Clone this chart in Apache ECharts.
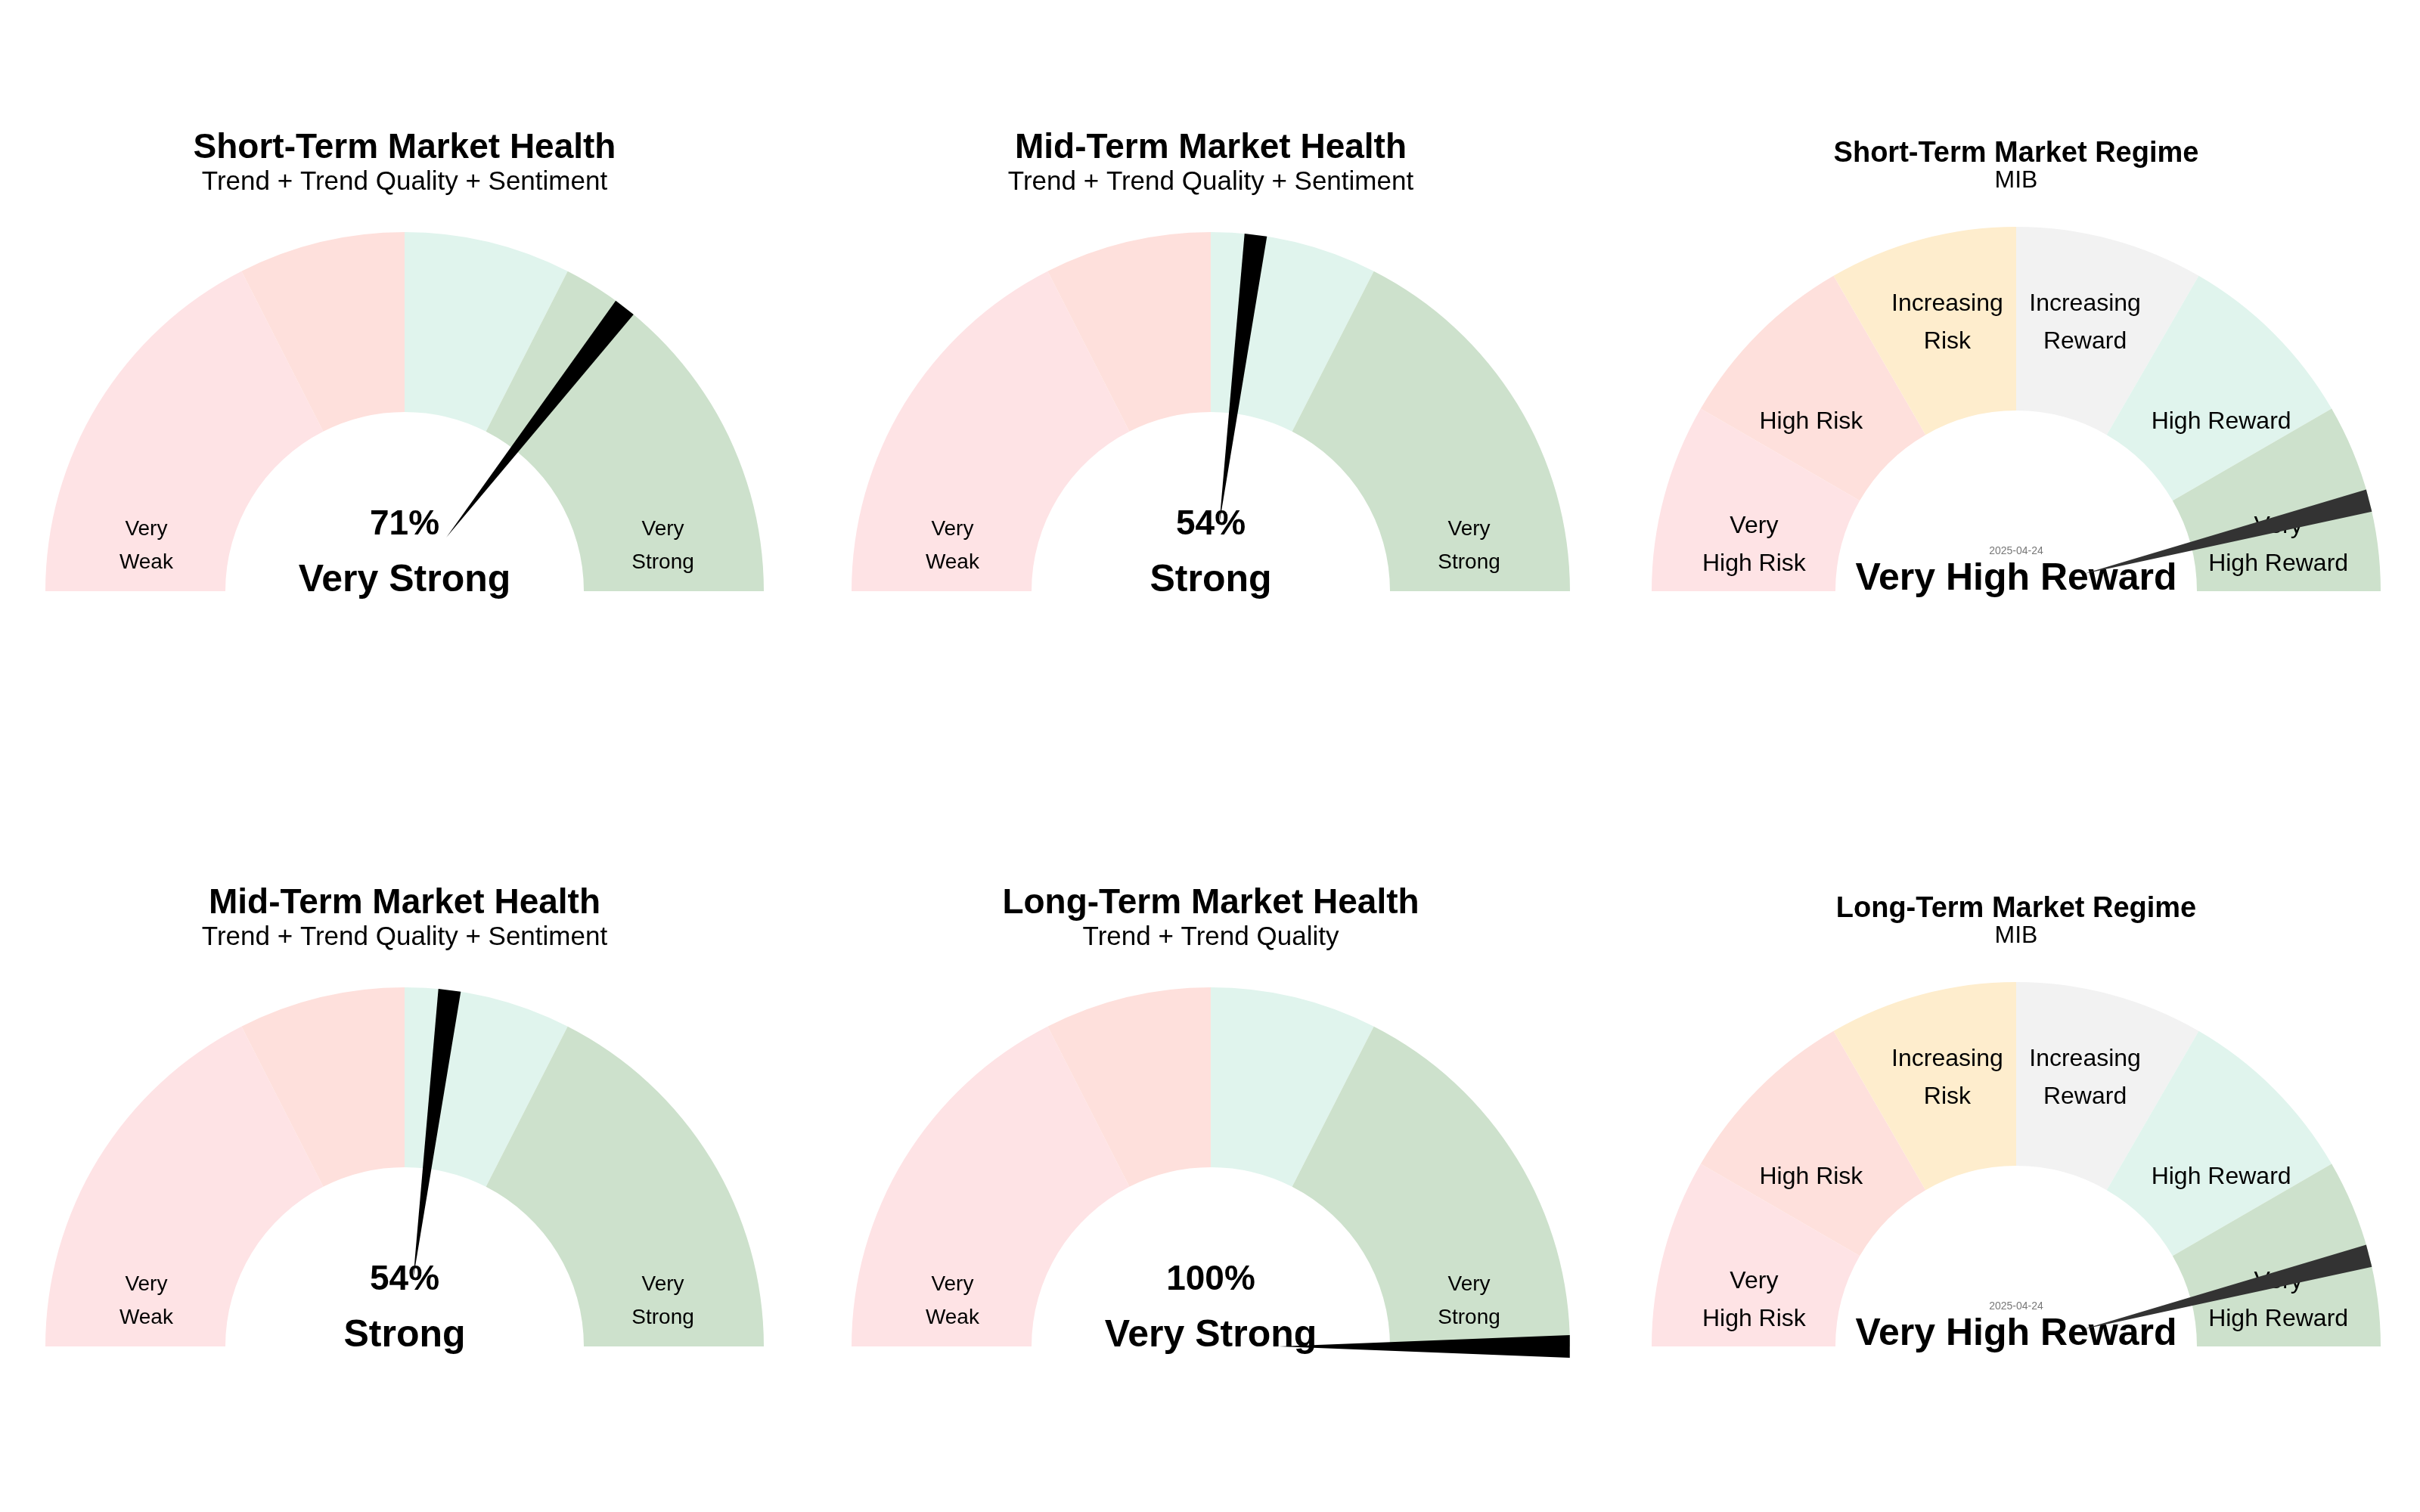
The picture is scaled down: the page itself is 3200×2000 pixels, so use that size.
<!DOCTYPE html>
<html lang="en">
<head>
    <meta charset="UTF-8">
    <title>Market Health Gauges</title>
    <style>
        html, body { margin: 0; padding: 0; background: #fff; }
        #main { width: 3200px; height: 2000px; }
    </style>
    <script src="https://cdn.jsdelivr.net/npm/echarts@6/dist/echarts.min.js"></script>
</head>
<body>
<div id="main"></div>
<script>
    // health gauges: 4 bands on a 0..100 scale
    var healthBands = [0, 35, 50, 65, 100];
    var healthColors = ['#fee3e5', '#fee0dc', '#e0f4ed', '#cde1cc'];
    var healthLabels = ['Very\nWeak', 'Very\nStrong'];
    var healthLabelAt = [5.5, 94.5];

    // regime gauges: 6 bands
    var regimeBands = [0, 16.7, 33.3, 50, 66.7, 83.3, 100];
    var regimeColors = ['#fee3e5', '#fee0dc', '#feedcd', '#f2f2f2', '#e0f4ed', '#cde1cc'];
    var regimeLabels = ['Very\nHigh Risk', 'High Risk', 'Increasing\nRisk', 'Increasing\nReward', 'High Reward', 'Very\nHigh Reward'];
    var regimeLabelAt = [5.5, 22, 42, 58, 78, 94.5];

    var titles = ['Short-Term Market Health', 'Mid-Term Market Health', 'Short-Term Market Regime',
                  'Mid-Term Market Health', 'Long-Term Market Health', 'Long-Term Market Regime'];
    var subtitles = ['Trend + Trend Quality + Sentiment', 'Trend + Trend Quality + Sentiment', 'MIB',
                     'Trend + Trend Quality + Sentiment', 'Trend + Trend Quality', 'MIB'];
    var kinds = ['health', 'health', 'regime', 'health', 'health', 'regime'];
    var values = [71, 54, 92, 54, 100, 92];
    var statusText = ['Very Strong', 'Strong', 'Very High Reward', 'Strong', 'Very Strong', 'Very High Reward'];
    var dateText = '2025-04-24';

    var centersX = [535, 1601, 2666];
    var baseY = [782, 1781];

    var chart = echarts.init(document.getElementById('main'));
    var polar = [], angleAxis = [], radiusAxis = [], series = [], graphic = [];
    var FONT = '"Liberation Sans", Arial, sans-serif';

    function ang(v) { return Math.PI + v / 100 * Math.PI; }

    titles.forEach(function (t, i) {
        var cx = centersX[i % 3], cy = baseY[Math.floor(i / 3)];
        var isReg = kinds[i] === 'regime';
        var R = isReg ? 482 : 475;
        var inner = isReg ? 239 / 482 : 237 / 475;
        var bands = isReg ? regimeBands : healthBands;
        var colors = isReg ? regimeColors : healthColors;
        var labels = isReg ? regimeLabels : healthLabels;
        var labelAt = isReg ? regimeLabelAt : healthLabelAt;

        polar.push({ center: [cx, cy], radius: [0, R] });
        angleAxis.push({ polarIndex: i, type: 'value', min: 0, max: 200, startAngle: 180, clockwise: true, show: false });
        radiusAxis.push({ polarIndex: i, type: 'value', min: 0, max: 1, show: false });

        var bandData = [];
        for (var b = 0; b < colors.length; b++) bandData.push([1, bands[b], bands[b + 1]]);

        series.push({
            type: 'custom', coordinateSystem: 'polar', polarIndex: i, silent: true,
            data: bandData,
            renderItem: function (params, api) {
                var c = api.coord([0, 0]);
                var o = api.coord([1, 0]);
                var r = Math.hypot(o[0] - c[0], o[1] - c[1]);
                return {
                    type: 'sector',
                    shape: { cx: c[0], cy: c[1], r0: r * inner, r: r,
                             startAngle: ang(api.value(1)), endAngle: ang(api.value(2)), clockwise: true },
                    style: { fill: colors[params.dataIndex] }
                };
            }
        });

        series.push({
            type: 'custom', coordinateSystem: 'polar', polarIndex: i, silent: true,
            data: labelAt.map(function (a, k) { return [isReg && (k === 2 || k === 3) ? 0.76 : 0.73, a]; }),
            renderItem: function (params, api) {
                var p = api.coord([api.value(0), api.value(1)]);
                return {
                    type: 'text', x: p[0], y: p[1],
                    style: { text: labels[params.dataIndex], textAlign: 'center', textVerticalAlign: 'middle',
                             font: (isReg ? 32 : 28) + 'px ' + FONT, lineHeight: isReg ? 50 : 44, fill: '#000' }
                };
            }
        });

        series.push({
            type: 'custom', coordinateSystem: 'polar', polarIndex: i, silent: true, z: 5,
            data: [[1, values[i]]],
            renderItem: function (params, api) {
                var v = api.value(1);
                var base = api.coord([0.19, v]);
                var t1 = api.coord([1, v - 1]);
                var t2 = api.coord([1, v + 1]);
                return {
                    type: 'polygon',
                    shape: { points: [base, t1, t2] },
                    style: { fill: isReg ? '#333333' : '#000000' }
                };
            }
        });

        var titleY = cy - (isReg ? 578 : 586);
        graphic.push({ type: 'text', x: cx, y: titleY, style: { text: t, textAlign: 'center', textVerticalAlign: 'middle',
            font: 'bold ' + (isReg ? 38 : 46) + 'px ' + FONT, fill: '#000' } });
        graphic.push({ type: 'text', x: cx, y: cy - (isReg ? 543 : 541), style: { text: subtitles[i], textAlign: 'center',
            textVerticalAlign: 'middle', font: (isReg ? 32 : 35) + 'px ' + FONT, fill: '#000' } });

        if (isReg) {
            graphic.push({ type: 'text', x: cx, y: cy - 53, style: { text: dateText, textAlign: 'center',
                textVerticalAlign: 'middle', font: '14px ' + FONT, fill: '#777' } });
            graphic.push({ type: 'text', x: cx, y: cy - 16, style: { text: statusText[i], textAlign: 'center',
                textVerticalAlign: 'middle', font: 'bold 50px ' + FONT, fill: '#000' } });
        } else {
            graphic.push({ type: 'text', x: cx, y: cy - 88, style: { text: values[i] + '%', textAlign: 'center',
                textVerticalAlign: 'middle', font: 'bold 46px ' + FONT, fill: '#000' } });
            graphic.push({ type: 'text', x: cx, y: cy - 14, style: { text: statusText[i], textAlign: 'center',
                textVerticalAlign: 'middle', font: 'bold 50px ' + FONT, fill: '#000' } });
        }
    });

    chart.setOption({
        animation: false,
        polar: polar,
        angleAxis: angleAxis,
        radiusAxis: radiusAxis,
        series: series,
        graphic: { elements: graphic }
    });
</script>
</body>
</html>
